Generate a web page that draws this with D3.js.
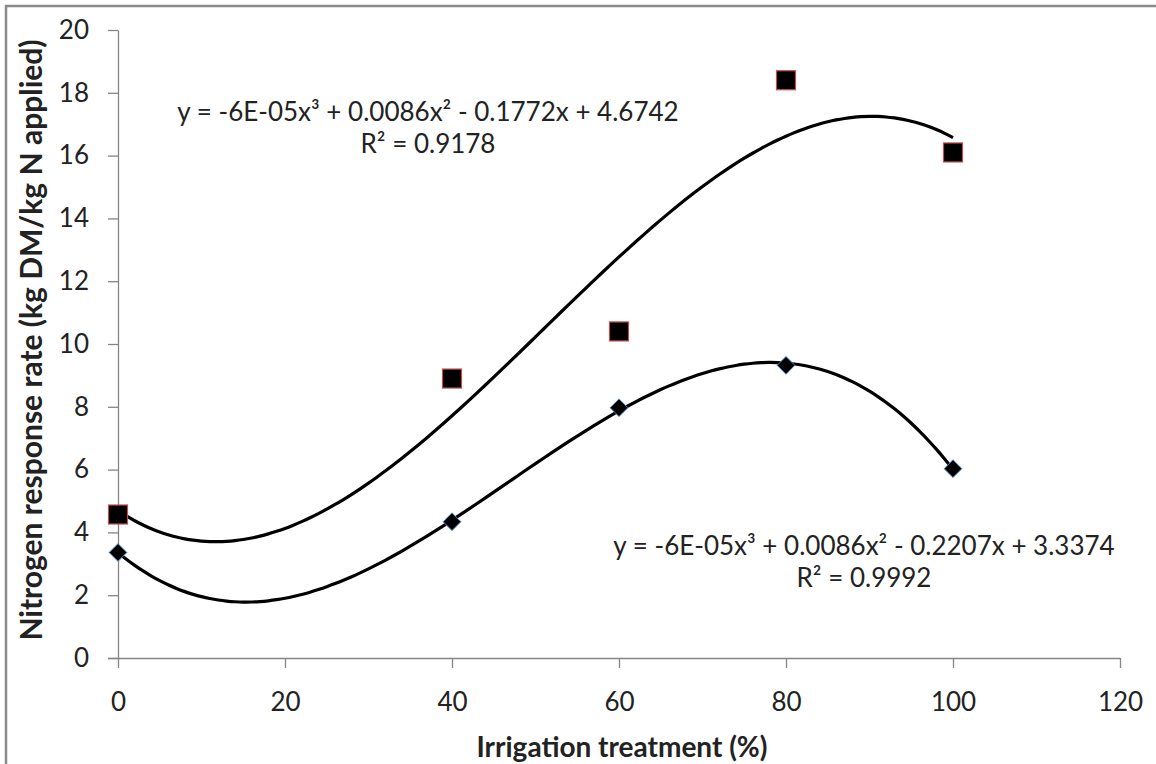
<!DOCTYPE html>
<html>
<head>
<meta charset="utf-8">
<script src="https://cdn.jsdelivr.net/npm/d3@7"></script>
<style>
  body { margin: 0; background: #fff; }
  svg text { font-family: Lato, "Open Sans", sans-serif; fill: #222; }
</style>
</head>
<body>
<svg id="chart"></svg>
<script>
// irrigation levels (%)
const irrigation = [0, 40, 60, 80, 100];
// nitrogen response rate, square series (upper)
const squareVals = [4.57, 8.9, 10.4, 18.4, 16.1];
// nitrogen response rate, diamond series (lower)
const diamondVals = [3.36, 4.34, 7.97, 9.32, 6.03];

const xTicks = [0, 20, 40, 60, 80, 100, 120];
const yTicks = [0, 2, 4, 6, 8, 10, 12, 14, 16, 18, 20];

const squareEq = ["y = -6E-05x³ + 0.0086x² - 0.1772x + 4.6742", "R² = 0.9178"];
const diamondEq = ["y = -6E-05x³ + 0.0086x² - 0.2207x + 3.3374", "R² = 0.9992"];

const W = 1156, H = 764;
const margin = { top: 30, right: 36, bottom: 106, left: 118 };
const width = W - margin.left - margin.right;
const height = H - margin.top - margin.bottom;

const svg = d3.select("#chart").attr("width", W).attr("height", H);

// outer frame (only top and left visible in the picture)
svg.append("path")
    .attr("d", `M6,${H} V6 H${W}`)
    .attr("fill", "none")
    .attr("stroke", "#8a8a8a")
    .attr("stroke-width", 2.5);

const g = svg.append("g").attr("transform", `translate(${margin.left},${margin.top})`);

const x = d3.scaleLinear().domain([0, 120]).range([0, width]);
const y = d3.scaleLinear().domain([0, 20]).range([height, 0]);

// least squares cubic fit (like an Excel poly trendline)
function cubicFit(xs, ys) {
    const n = 4, s = 100;
    const A = d3.range(n).map(() => new Array(n + 1).fill(0));
    xs.forEach((xv, k) => {
        const t = xv / s;
        for (let i = 0; i < n; i++) {
            for (let j = 0; j < n; j++) A[i][j] += Math.pow(t, i + j);
            A[i][n] += ys[k] * Math.pow(t, i);
        }
    });
    for (let c = 0; c < n; c++) {
        let p = c;
        for (let r = c + 1; r < n; r++) if (Math.abs(A[r][c]) > Math.abs(A[p][c])) p = r;
        [A[c], A[p]] = [A[p], A[c]];
        for (let r = 0; r < n; r++) {
            if (r === c) continue;
            const f = A[r][c] / A[c][c];
            for (let j = c; j <= n; j++) A[r][j] -= f * A[c][j];
        }
    }
    const coef = A.map((row, i) => row[n] / row[i]);
    return xv => coef.reduce((acc, cv, i) => acc + cv * Math.pow(xv / s, i), 0);
}

const xAxis = g.append("g")
    .attr("transform", `translate(0,${height})`)
    .call(d3.axisBottom(x).tickValues(xTicks).tickSize(10).tickSizeOuter(0).tickPadding(25));
const yAxis = g.append("g")
    .call(d3.axisLeft(y).tickValues(yTicks).tickSize(10).tickSizeOuter(0).tickPadding(19));

[xAxis, yAxis].forEach(a => {
    a.selectAll("path, line").attr("stroke", "#868686").attr("stroke-width", 1.3);
    a.selectAll("text").style("font-size", "26px").attr("fill", "#222");
});
xAxis.select(".domain").attr("d", `M-10,0.5H${width}`);

// trend lines
const line = d3.line().x(d => x(d[0])).y(d => y(d[1])).curve(d3.curveBasis);
[squareVals, diamondVals].forEach(vals => {
    const f = cubicFit(irrigation, vals);
    const pts = d3.range(0, 100.01, 1).map(v => [v, f(v)]);
    g.append("path")
        .datum(pts)
        .attr("d", line)
        .attr("fill", "none")
        .attr("stroke", "#000")
        .attr("stroke-width", 3.2);
});

// markers
g.selectAll(".sq")
    .data(irrigation.map((v, i) => [v, squareVals[i]]))
    .join("rect")
    .attr("x", d => x(d[0]) - 9.5)
    .attr("y", d => y(d[1]) - 9.5)
    .attr("width", 19)
    .attr("height", 19)
    .attr("fill", "#000")
    .attr("stroke", "#c0504d")
    .attr("stroke-width", 1.2);

g.selectAll(".dm")
    .data(irrigation.map((v, i) => [v, diamondVals[i]]))
    .join("path")
    .attr("d", d3.symbol().type(d3.symbolDiamond2).size(200))
    .attr("transform", d => `translate(${x(d[0])},${y(d[1])})`)
    .attr("fill", "#000")
    .attr("stroke", "#4f81bd")
    .attr("stroke-width", 1);

// trendline equations
function eqLabel(lines, cx, cy) {
    lines.forEach((t, i) => {
        svg.append("text")
            .attr("x", cx)
            .attr("y", cy + i * 32)
            .attr("text-anchor", "middle")
            .style("font-size", "26px")
            .text(t);
    });
}
eqLabel(squareEq, 428, 121);
eqLabel(diamondEq, 864, 555);

// axis titles
svg.append("text")
    .attr("x", 622)
    .attr("y", 757)
    .attr("text-anchor", "middle")
    .style("font-size", "28px")
    .style("font-weight", "bold")
    .text("Irrigation treatment (%)");

svg.append("text")
    .attr("transform", "translate(42,340) rotate(-90)")
    .attr("text-anchor", "middle")
    .style("font-size", "30px")
    .style("font-weight", "bold")
    .text("Nitrogen response rate (kg DM/kg N applied)");
</script>
</body>
</html>
